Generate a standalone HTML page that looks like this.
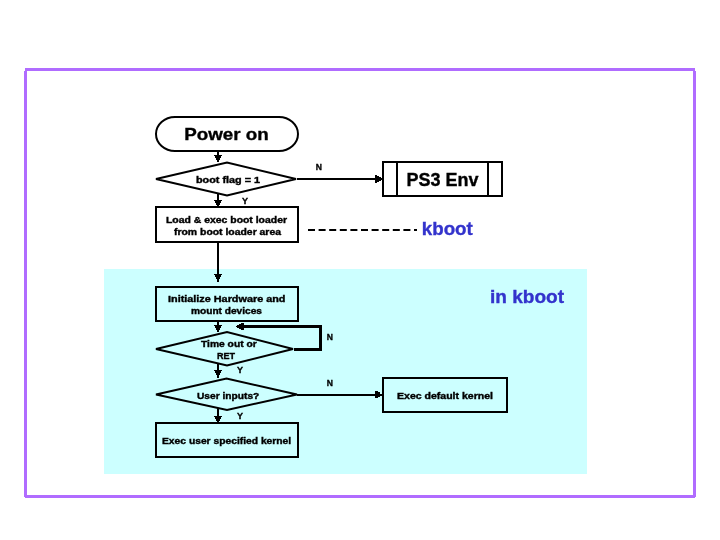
<!DOCTYPE html>
<html><head><meta charset="utf-8"><style>
html,body{margin:0;padding:0;background:#fff;width:720px;height:540px;overflow:hidden}
svg{display:block;will-change:transform}
text{font-family:"Liberation Sans",sans-serif;font-weight:bold;fill:#000;stroke:#000;stroke-width:0.35}
.b{stroke:#3333cc}
.s{stroke-width:0.4}
.b{fill:#3333cc}
</style></head><body>
<svg width="720" height="540" viewBox="0 0 720 540">
<rect x="0" y="0" width="720" height="540" fill="#fff"/>
<g fill="#b06cff" shape-rendering="crispEdges">
<rect x="25" y="68" width="670" height="3"/>
<rect x="24" y="71" width="3" height="426"/>
<rect x="693" y="71" width="3" height="426"/>
<rect x="25" y="495" width="670" height="3"/>
</g>
<rect x="104" y="269" width="483" height="205" fill="#ccffff"/>

<g fill="none" stroke="#000" stroke-width="2">
<path d="M175 117 H279 A19 17 0 0 1 279 151 H175 A19 17 0 0 1 175 117 Z"/>
<path d="M156 179 L227 162.5 L296 179 L227 195.5 Z"/>
<path d="M156 349 L227 332 L293 349 L227 365.5 Z"/>
<path d="M156 394.5 L226.5 378.5 L297 394.5 L227 410 Z"/>
<line x1="308" y1="230" x2="417" y2="230" stroke-dasharray="7 3.6"/>
</g>
<g fill="#000" shape-rendering="crispEdges">
<rect x="217" y="152" width="2" height="10"/>
<rect x="217" y="194" width="2" height="12"/>
<rect x="217" y="242" width="2" height="40"/>
<rect x="217" y="322" width="2" height="10"/>
<rect x="217" y="364" width="2" height="14"/>
<rect x="217" y="408" width="2" height="14"/>
<rect x="214" y="155" width="8" height="1"/>
<rect x="215" y="156" width="6" height="2"/>
<rect x="216" y="158" width="4" height="2"/>
<rect x="214" y="200" width="8" height="1"/>
<rect x="215" y="201" width="6" height="2"/>
<rect x="216" y="203" width="4" height="2"/>
<rect x="214" y="274" width="8" height="1"/>
<rect x="215" y="275" width="6" height="2"/>
<rect x="216" y="277" width="4" height="2"/>
<rect x="214" y="325" width="8" height="1"/>
<rect x="215" y="326" width="6" height="2"/>
<rect x="216" y="328" width="4" height="2"/>
<rect x="214" y="370" width="8" height="1"/>
<rect x="215" y="371" width="6" height="2"/>
<rect x="216" y="373" width="4" height="2"/>
<rect x="214" y="416" width="8" height="1"/>
<rect x="215" y="417" width="6" height="2"/>
<rect x="216" y="419" width="4" height="2"/>
<rect x="297" y="178" width="85" height="2"/>
<rect x="297" y="394" width="85" height="2"/>
<rect x="375" y="175" width="2" height="8"/>
<rect x="377" y="176" width="2" height="6"/>
<rect x="379" y="177" width="2" height="4"/>
<rect x="381" y="178" width="1" height="2"/>
<rect x="375" y="391" width="3" height="7"/>
<rect x="378" y="392" width="2" height="5"/>
<rect x="294" y="348" width="28" height="3"/>
<rect x="319" y="325" width="3" height="26"/>
<rect x="244" y="325" width="78" height="3"/>
<rect x="241" y="323" width="3" height="7"/>
<rect x="239" y="324" width="2" height="5"/>
<rect x="237" y="325" width="2" height="3"/>
<rect x="236" y="326" width="1" height="1"/>
<rect x="155" y="206" width="144" height="2"/>
<rect x="155" y="241" width="144" height="2"/>
<rect x="155" y="206" width="2" height="37"/>
<rect x="297" y="206" width="2" height="37"/>
<rect x="382" y="161" width="121" height="2"/>
<rect x="382" y="195" width="121" height="2"/>
<rect x="382" y="161" width="2" height="36"/>
<rect x="501" y="161" width="2" height="36"/>
<rect x="396" y="161" width="2" height="36"/>
<rect x="487" y="161" width="2" height="36"/>
<rect x="155" y="286" width="144" height="2"/>
<rect x="155" y="320" width="144" height="2"/>
<rect x="155" y="286" width="2" height="36"/>
<rect x="297" y="286" width="2" height="36"/>
<rect x="155" y="422" width="144" height="2"/>
<rect x="155" y="456" width="144" height="2"/>
<rect x="155" y="422" width="2" height="36"/>
<rect x="297" y="422" width="2" height="36"/>
<rect x="382" y="377" width="126" height="2"/>
<rect x="382" y="411" width="126" height="2"/>
<rect x="382" y="377" width="2" height="36"/>
<rect x="506" y="377" width="2" height="36"/>
</g>

<text x="184.2" y="140.2" font-size="17" textLength="84.5" lengthAdjust="spacingAndGlyphs">Power on</text>
<text class="s" x="196" y="182.9" font-size="9.8" textLength="64" lengthAdjust="spacingAndGlyphs">boot flag = 1</text>
<text x="406.5" y="186" font-size="18" textLength="72" lengthAdjust="spacingAndGlyphs">PS3 Env</text>
<text class="s" x="166" y="223.2" font-size="9.8" textLength="121" lengthAdjust="spacingAndGlyphs">Load &amp; exec boot loader</text>
<text class="s" x="174" y="235" font-size="9.8" textLength="107" lengthAdjust="spacingAndGlyphs">from boot loader area</text>
<text class="b" x="421.8" y="235" font-size="18" textLength="51" lengthAdjust="spacingAndGlyphs">kboot</text>
<text class="s" x="168" y="302.2" font-size="9.8" textLength="117.5" lengthAdjust="spacingAndGlyphs">Initialize Hardware and</text>
<text class="s" x="191" y="314" font-size="9.8" textLength="71" lengthAdjust="spacingAndGlyphs">mount devices</text>
<text class="b" x="490" y="302.5" font-size="18" textLength="74" lengthAdjust="spacingAndGlyphs">in kboot</text>
<text class="s" x="201" y="346.9" font-size="9.8" textLength="55.7" lengthAdjust="spacingAndGlyphs">Time out or</text>
<text class="s" x="217" y="358.6" font-size="9.8" textLength="18" lengthAdjust="spacingAndGlyphs">RET</text>
<text class="s" x="197" y="398.8" font-size="9.8" textLength="62.3" lengthAdjust="spacingAndGlyphs">User inputs?</text>
<text class="s" x="397" y="399" font-size="9.8" textLength="96" lengthAdjust="spacingAndGlyphs">Exec default kernel</text>
<text class="s" x="162" y="444" font-size="9.8" textLength="129.2" lengthAdjust="spacingAndGlyphs">Exec user specified kernel</text>
<text x="315.8" y="170" font-size="9.3" textLength="6.2" lengthAdjust="spacingAndGlyphs">N</text>
<text x="326.8" y="339.6" font-size="9.3" textLength="6.2" lengthAdjust="spacingAndGlyphs">N</text>
<text x="326.8" y="385.8" font-size="9.3" textLength="6.2" lengthAdjust="spacingAndGlyphs">N</text>
<text x="242" y="203.5" font-size="9">Y</text>
<text x="237" y="373.3" font-size="9">Y</text>
<text x="237" y="419.3" font-size="9">Y</text>
</svg>
</body></html>
